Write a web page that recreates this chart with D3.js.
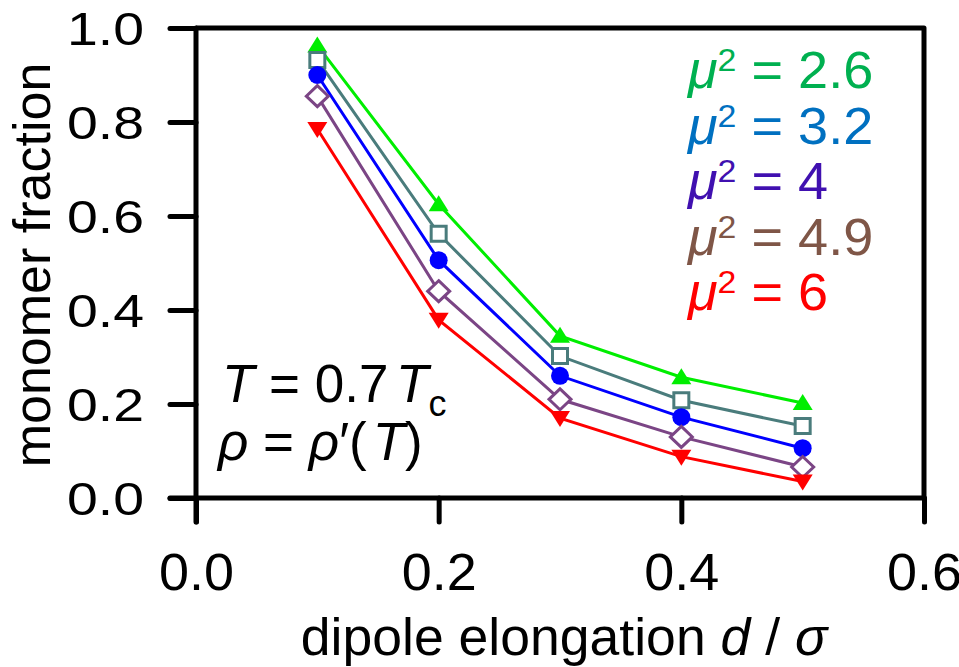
<!DOCTYPE html>
<html>
<head>
<meta charset="utf-8">
<script src="https://cdn.jsdelivr.net/npm/d3@7"></script>
<style>
  html, body { margin: 0; padding: 0; background: #fff; }
  svg { display: block; font-family: "Liberation Sans", Arial, sans-serif; }
</style>
</head>
<body>
<svg id="chart" width="959" height="667"></svg>
<script>
// ---- data ----
const elongation = [0.1, 0.2, 0.3, 0.4, 0.5];
const mu2_26 = [0.963, 0.625, 0.345, 0.257, 0.202];
const mu2_32 = [0.932, 0.562, 0.302, 0.208, 0.153];
const mu2_40 = [0.900, 0.506, 0.260, 0.172, 0.106];
const mu2_49 = [0.855, 0.440, 0.210, 0.130, 0.066];
const mu2_60 = [0.785, 0.379, 0.170, 0.088, 0.035];
const xTicks = [0.0, 0.2, 0.4, 0.6];
const yTicks = [0.0, 0.2, 0.4, 0.6, 0.8, 1.0];
const legendLabels = ["2.6", "3.2", "4", "4.9", "6"];

const series = [
  { values: mu2_26, color: "#00ee00", marker: "triUp" },
  { values: mu2_32, color: "#4a7c7c", marker: "square" },
  { values: mu2_40, color: "#0000ff", marker: "circle" },
  { values: mu2_49, color: "#7b4585", marker: "diamond" },
  { values: mu2_60, color: "#ff0000", marker: "triDown" }
];
const legendColors = ["#00b050", "#0070c0", "#4010b0", "#7f5647", "#ff0000"];

// ---- layout ----
const svg = d3.select("#chart");
const x = d3.scaleLinear().domain([0, 0.6]).range([196, 924]);
const y = d3.scaleLinear().domain([0, 1]).range([498, 28]);

// frame (top + right)
svg.append("path")
  .attr("d", `M${x(0)},${y(1)} H${x(0.6)} V${y(0)}`)
  .attr("fill", "none").attr("stroke", "#000").attr("stroke-width", 5)
  .attr("stroke-linejoin", "round");

// y axis
const yAxis = svg.append("g").attr("transform", `translate(${x(0)},0)`)
  .call(d3.axisLeft(y).tickValues(yTicks).tickSize(26).tickSizeOuter(0)
        .tickPadding(0).tickFormat(d3.format(".1f")));
yAxis.select(".domain").attr("stroke", "#000").attr("stroke-width", 5)
  .attr("d", `M0,${y(1)} V${y(0) + 24}`).attr("stroke-linecap", "round");
yAxis.selectAll(".tick line").attr("stroke", "#000").attr("stroke-width", 5)
  .attr("stroke-linecap", "round");
yAxis.selectAll(".tick text")
  .attr("x", -52).attr("dy", null).attr("y", 16)
  .attr("font-size", 46).attr("fill", "#000")
  .attr("textLength", 77).attr("lengthAdjust", "spacingAndGlyphs")
  .attr("font-family", '"Liberation Sans", Arial, sans-serif');

// x axis
const xAxis = svg.append("g").attr("transform", `translate(0,${y(0)})`)
  .call(d3.axisBottom(x).tickValues(xTicks).tickSize(24).tickSizeOuter(0)
        .tickPadding(0).tickFormat(d3.format(".1f")));
xAxis.select(".domain").attr("stroke", "#000").attr("stroke-width", 5)
  .attr("d", `M${x(0) - 26},0 H${x(0.6)}`).attr("stroke-linecap", "round");
xAxis.selectAll(".tick line").attr("stroke", "#000").attr("stroke-width", 5)
  .attr("stroke-linecap", "round");
xAxis.selectAll(".tick text")
  .attr("y", 92).attr("dy", null)
  .attr("font-size", 51).attr("fill", "#000")
  .attr("textLength", 75).attr("lengthAdjust", "spacingAndGlyphs")
  .attr("font-family", '"Liberation Sans", Arial, sans-serif');

// axis titles
svg.append("text")
  .attr("transform", `translate(50,265) rotate(-90)`)
  .attr("text-anchor", "middle").attr("font-size", 52).attr("fill", "#000")
  .text("monomer fraction");

const xt = svg.append("g").attr("transform", "translate(564,655) scale(1.05,1)")
  .append("text").attr("text-anchor", "middle").attr("font-size", 51).attr("fill", "#000");
xt.append("tspan").text("dipole elongation ");
xt.append("tspan").attr("font-style", "italic").text("d");
xt.append("tspan").text(" / ");
xt.append("tspan").attr("font-style", "italic").text("σ");

// lines
const line = d3.line().x((d, i) => x(elongation[i])).y(d => y(d));
series.forEach(s => {
  svg.append("path").datum(s.values).attr("d", line)
    .attr("fill", "none").attr("stroke", s.color).attr("stroke-width", 3);
});

// markers
function markerPath(type, cx, cy) {
  switch (type) {
    case "triUp": return `M${cx - 10},${cy + 7} L${cx + 10},${cy + 7} L${cx},${cy - 9} Z`;
    case "triDown": return `M${cx - 10},${cy - 7} L${cx + 10},${cy - 7} L${cx},${cy + 9} Z`;
    case "square": return `M${cx - 7.5},${cy - 7.5} h15 v15 h-15 Z`;
    case "diamond": return `M${cx},${cy - 10.5} L${cx + 11},${cy} L${cx},${cy + 10.5} L${cx - 11},${cy} Z`;
  }
}
series.forEach(s => {
  const g = svg.append("g");
  s.values.forEach((v, i) => {
    const cx = x(elongation[i]), cy = y(v);
    if (s.marker === "circle") {
      g.append("circle").attr("cx", cx).attr("cy", cy).attr("r", 9).attr("fill", s.color);
    } else if (s.marker === "square" || s.marker === "diamond") {
      g.append("path").attr("d", markerPath(s.marker, cx, cy))
        .attr("fill", "#fff").attr("stroke", s.color).attr("stroke-width", 3);
    } else {
      g.append("path").attr("d", markerPath(s.marker, cx, cy)).attr("fill", s.color);
    }
  });
});

// legend text
legendLabels.forEach((lab, i) => {
  const t = svg.append("g").attr("transform", `translate(688,${88 + i * 55.5}) scale(1.06,1)`)
    .append("text").attr("font-size", 51).attr("fill", legendColors[i]);
  t.append("tspan").attr("font-style", "italic").text("μ");
  t.append("tspan").attr("font-size", 32).attr("dy", -17).text("2");
  t.append("tspan").attr("dy", 17).text(" = " + lab);
});

// annotation
const a1 = svg.append("text").attr("x", 222).attr("y", 402).attr("font-size", 53).attr("fill", "#000");
a1.append("tspan").attr("font-style", "italic").text("T");
a1.append("tspan").text(" = 0.7");
a1.append("tspan").attr("x", 396).attr("font-style", "italic").text("T");
a1.append("tspan").attr("font-size", 36).attr("dy", 14).text("c");

const a2 = svg.append("text").attr("x", 218).attr("y", 460).attr("font-size", 53).attr("fill", "#000");
a2.append("tspan").attr("font-style", "italic").text("ρ");
a2.append("tspan").text(" = ");
a2.append("tspan").attr("font-style", "italic").text("ρ");
a2.append("tspan").text("′(");
a2.append("tspan").attr("font-style", "italic").attr("dx", 6).text("T");
a2.append("tspan").text(")");
</script>
</body>
</html>
